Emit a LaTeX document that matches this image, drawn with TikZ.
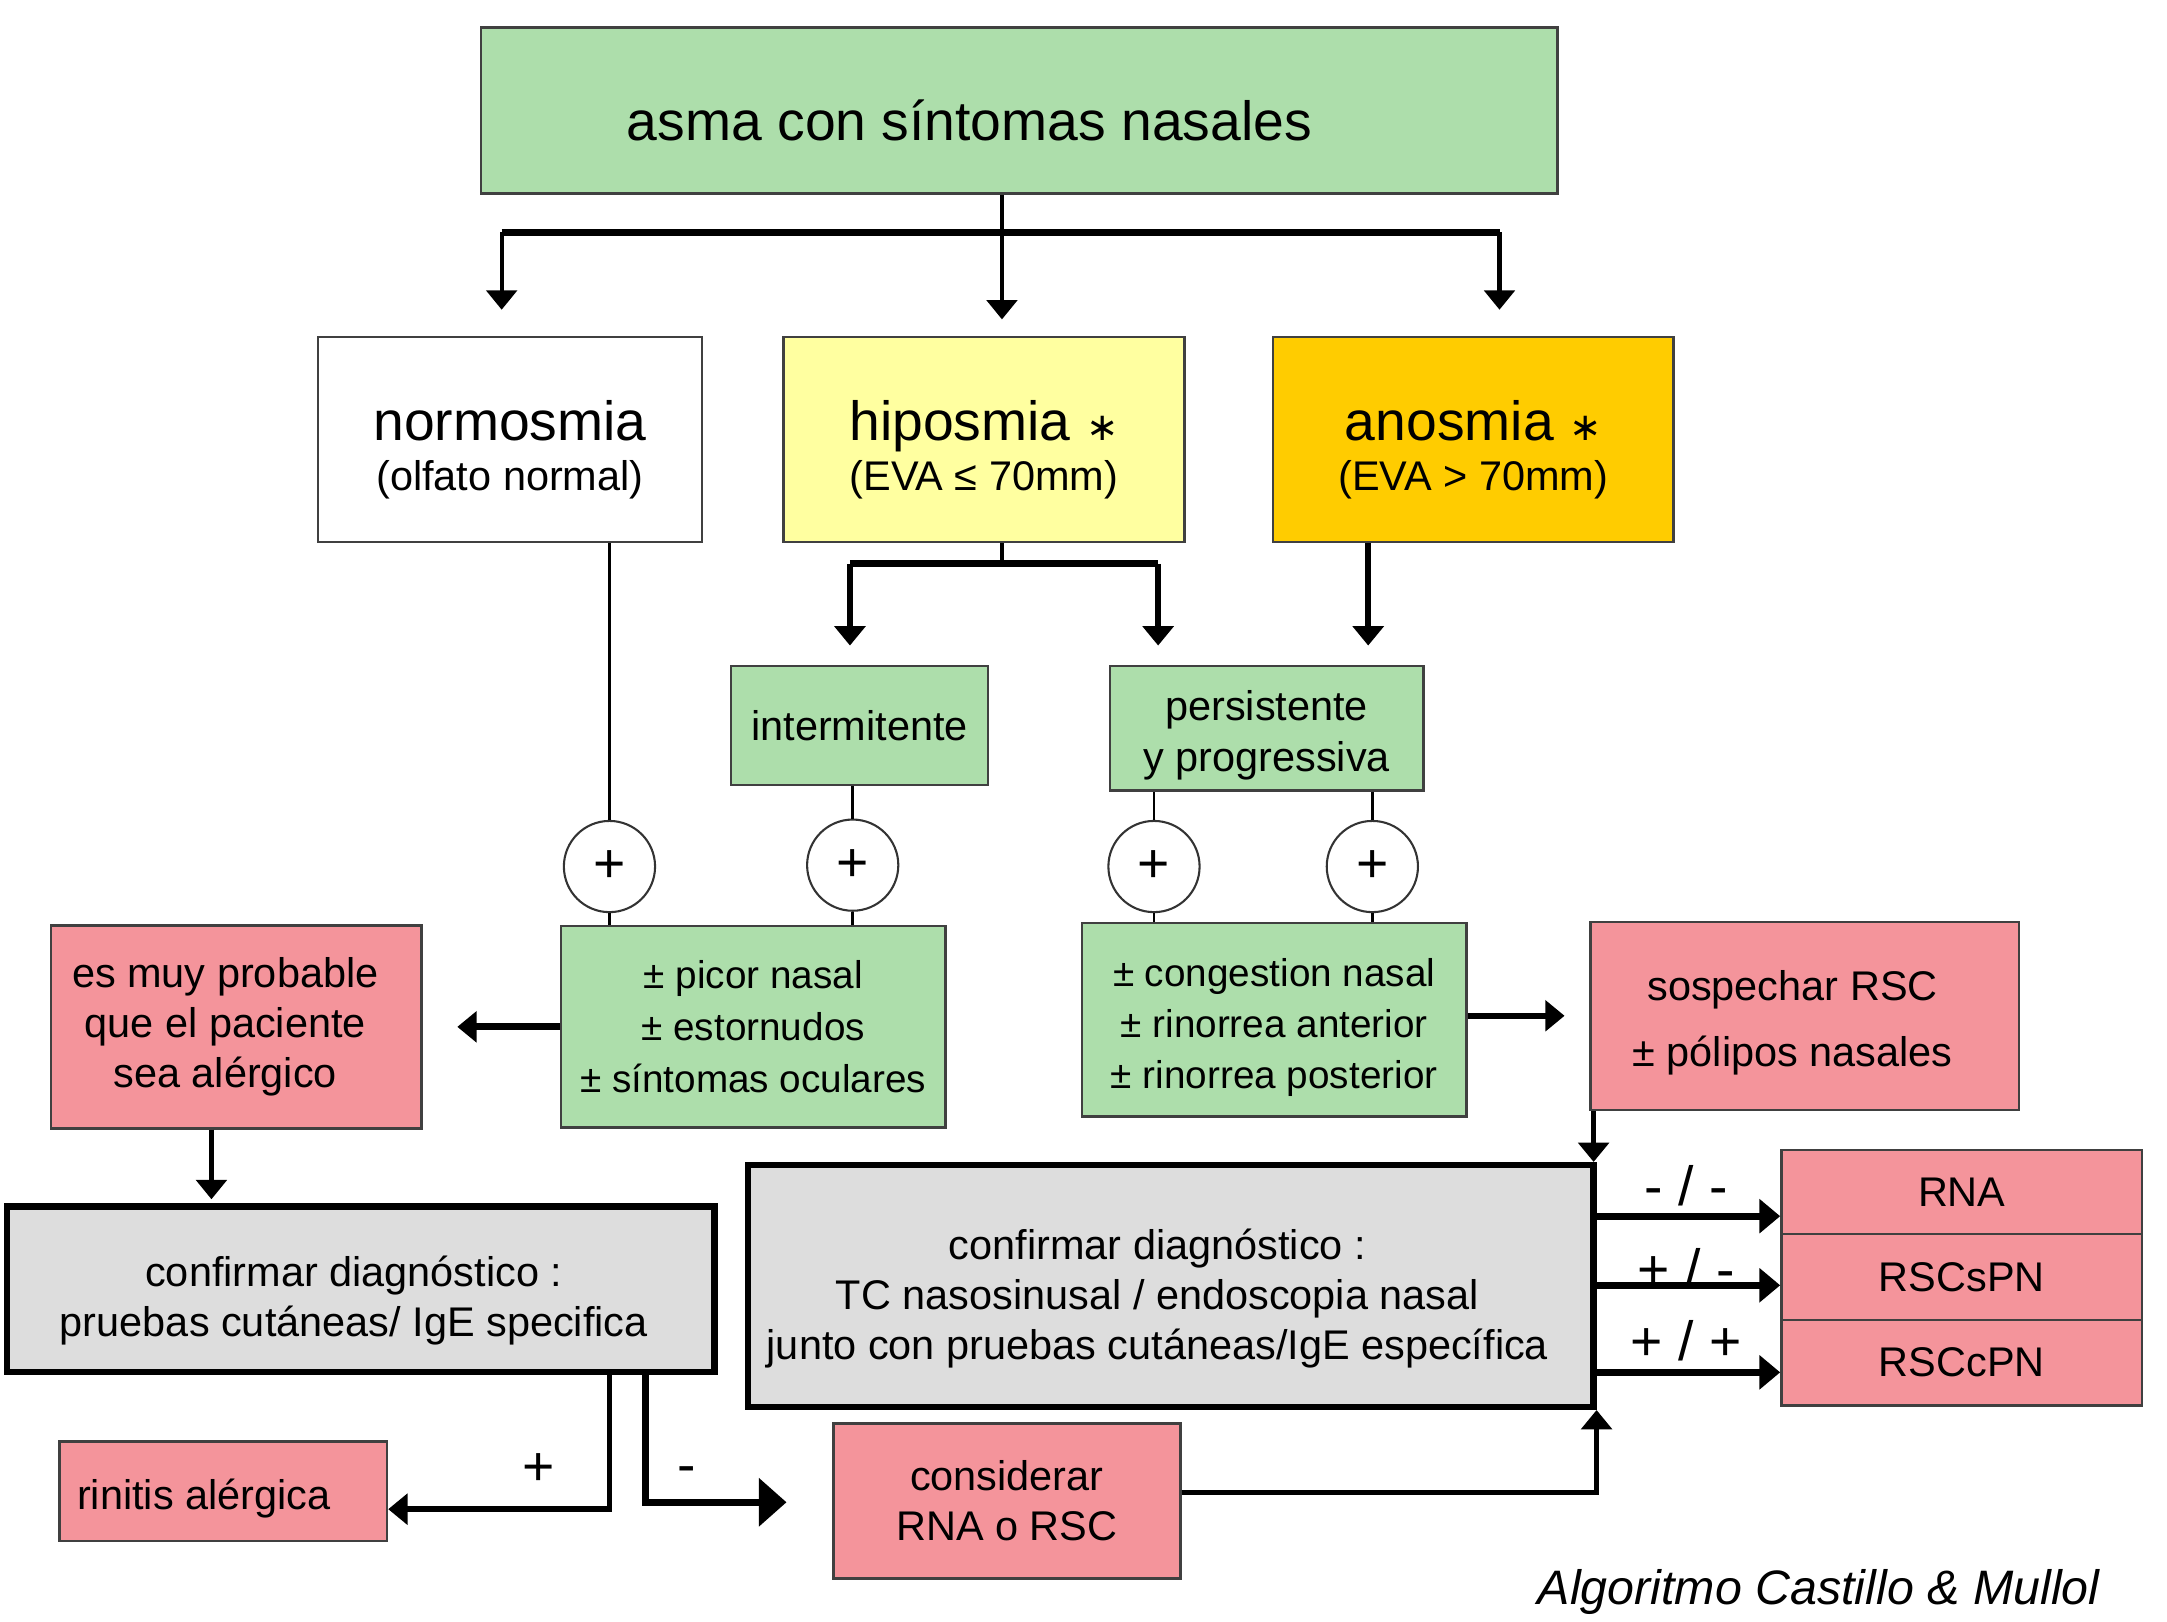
\documentclass[tikz,border=0pt]{standalone}
\usepackage{fontspec}
\setmainfont{Liberation Sans}
\newfontfamily\symfont{DejaVu Sans}
\usetikzlibrary{arrows.meta, positioning}
\definecolor{nasalgreen}{RGB}{173,222,171}
\definecolor{hipoyellow}{RGB}{255,255,160}
\definecolor{anogold}{RGB}{255,204,0}
\definecolor{rscpink}{RGB}{244,148,155}
\definecolor{diaggrey}{RGB}{221,221,221}

\begin{document}
\begin{tikzpicture}[x=1pt,y=-1pt,on grid,>={Triangle[width=22pt,length=14pt]},
    every node/.style={inner sep=0pt,align=center,font=\fontsize{30}{36}\selectfont},
    colbox/.style={draw=black!75,line width=1.8pt,fill=#1},
    diagbox/.style={draw=black,line width=4.5pt,fill=diaggrey},
    pluscircle/.style={circle,draw=black!80,line width=1.5pt,fill=white,minimum size=66pt,
      font=\fontsize{40}{40}\selectfont},
    signlabel/.style={font=\fontsize{40}{40}\selectfont},
    arr/.style={->,line width=3pt},
    bigarr/.style={-{Triangle[width=24pt,length=15pt]},line width=4.8pt},
    bar/.style={line width=5pt},
    link/.style={line width=2pt}]
  \useasboundingbox (0,0) rectangle (1568,1173);
  % olfato
  \node[colbox=nasalgreen,minimum width=779pt,minimum height=120pt,font=\fontsize{40}{48}\selectfont]
    (asma) at (737.5,80) {\rule{0pt}{44pt}asma con síntomas nasales\kern72pt};
  \node[colbox=white,minimum width=278pt,minimum height=148pt] (normosmia) at (369,318)
    {{\fontsize{40}{40}\selectfont\rule{0pt}{44pt}normosmia}\\(olfato normal)};
  \node[colbox=hipoyellow,minimum width=290pt,minimum height=148pt,right=343pt of normosmia] (hiposmia)
    {{\fontsize{40}{40}\selectfont\rule{0pt}{44pt}hiposmia {\symfont\fontsize{28}{28}\selectfont ∗}}\\(EVA ≤ 70mm)};
  \node[colbox=anogold,minimum width=290pt,minimum height=148pt,right=354pt of hiposmia] (anosmia)
    {{\fontsize{40}{40}\selectfont\rule{0pt}{44pt}anosmia {\symfont\fontsize{28}{28}\selectfont ∗}}\\(EVA > 70mm)};
  \node[colbox=nasalgreen,minimum width=186pt,minimum height=86pt] (intermitente) at (622,525) {intermitente};
  \node[colbox=nasalgreen,minimum width=227pt,minimum height=90pt] (persistente) at (916.5,527)
    {\rule{0pt}{32pt}persistente\\[1pt]y progressiva};
  \node[pluscircle] (c1) at (441,627) {+};
  \node[pluscircle] (c2) at (617,626) {+};
  \node[pluscircle] (c3) at (835,627) {+};
  \node[pluscircle] (c4) at (993,627) {+};
  % sintomas
  \node[colbox=nasalgreen,minimum width=278pt,minimum height=146pt,font=\fontsize{28}{37.5}\selectfont]
    (sym1) at (545,743) {± picor nasal\\± estornudos\\± síntomas oculares};
  \node[colbox=nasalgreen,minimum width=278pt,minimum height=140pt,font=\fontsize{28}{37}\selectfont]
    (sym2) at (922,738) {\rule{0pt}{31pt}± congestion nasal\\± rinorrea anterior\\± rinorrea posterior};
  \node[colbox=rscpink,minimum width=268pt,minimum height=147pt] (alerg) at (171,743)
    {es muy probable\kern16pt\\que el paciente\kern16pt\\sea alérgico\kern16pt};
  \node[colbox=rscpink,minimum width=310pt,minimum height=136pt] (sospechar) at (1306,735)
    {\rule{0pt}{32pt}sospechar RSC\kern18pt\\[12pt]± pólipos nasales\kern18pt};
  % diagnostico
  \node[diagbox,minimum width=512pt,minimum height=120pt] (diag1) at (261,933)
    {\rule{0pt}{38pt}confirmar diagnóstico :\kern10pt\\pruebas cutáneas/ IgE specifica\kern10pt};
  \node[diagbox,minimum width=612pt,minimum height=175pt] (diag2) at (847,930.5)
    {\rule{0pt}{40pt}confirmar diagnóstico :\kern19pt\\TC nasosinusal / endoscopia nasal\kern19pt\\junto con pruebas cutáneas/IgE específica\kern19pt};
  \node[colbox=rscpink,minimum width=261pt,minimum height=61pt] (RNA) at (1419.5,862.5) {RNA};
  \node[colbox=rscpink,minimum width=261pt,minimum height=62pt,below=61.5pt of RNA] (RSCsPN) {RSCsPN};
  \node[colbox=rscpink,minimum width=261pt,minimum height=62pt,below=62pt of RSCsPN] (RSCcPN) {RSCcPN};
  \node[colbox=rscpink,minimum width=237pt,minimum height=72pt] (rinitis) at (161.5,1079)
    {\rule{0pt}{33pt}rinitis alérgica\kern28pt};
  \node[colbox=rscpink,minimum width=251pt,minimum height=112pt] (considerar) at (728.5,1086)
    {considerar\\RNA o RSC};
  \node[signlabel] (mm) at (1220,858) {- / -};
  \node[signlabel] (pm) at (1220,918) {+ / -};
  \node[signlabel] (pp) at (1220,970) {+ / +};
  \node[signlabel] (pos) at (390,1063) {+};
  \node[signlabel] (neg) at (497,1067) {-};
  \node[font=\fontsize{35}{38}\selectfont\itshape] (credit) at (1316,1152) {Algoritmo Castillo \& Mullol};

  % conectores
  \coordinate (split) at (725,168);
  \coordinate (barL) at (363,168);
  \coordinate (barR) at (1085,168);
  \draw[line width=3pt] ([xshift=-12.5pt]asma.south) -- (split);
  \draw[bar] (barL) -- (barR);
  \draw[arr,shorten >=19pt] (barL) -- (barL |- normosmia.north);
  \draw[arr,shorten >=12pt] (split) -- (split |- hiposmia.north);
  \draw[arr,shorten >=19pt] (barR) -- (barR |- anosmia.north);
  \coordinate (hsplit) at (725,408);
  \coordinate (hipL) at (615,408);
  \coordinate (hipR) at (838,408);
  \draw[line width=3pt] (hiposmia.south -| hsplit) -- (hsplit);
  \draw[bar] (hipL) -- (hipR);
  \draw[arr,line width=4pt,shorten >=14pt] (hipL) -- (hipL |- intermitente.north);
  \draw[arr,line width=4pt,shorten >=14pt] (hipR) -- (hipR |- persistente.north);
  \draw[arr,line width=4pt,shorten >=14pt] ([xshift=-76pt]anosmia.south) -- ([xshift=-76pt]anosmia.south |- persistente.north);
  \draw[link] (normosmia.south -| c1) -- (c1.north);
  \draw[link] (intermitente.south -| c2) -- (c2.north);
  \draw[link] (persistente.south -| c3) -- (c3.north);
  \draw[link] (persistente.south -| c4) -- (c4.north);
  \draw[link] (c1.south) -- (c1.south |- sym1.north);
  \draw[link] (c2.south) -- (c2.south |- sym1.north);
  \draw[link] (c3.south) -- (c3.south |- sym2.north);
  \draw[link] (c4.south) -- (c4.south |- sym2.north);
  \draw[arr,line width=5pt,shorten >=25pt] (sym1.west) -- (alerg.east);
  \draw[arr,line width=4.5pt,shorten >=18pt] (sym2.east |- sospechar.west) -- (sospechar.west);
  \draw[arr,shorten >=3pt] ([xshift=-18pt]alerg.south) -- ([xshift=-18pt]alerg.south |- diag1.north);
  \draw[arr,line width=4pt] ([xshift=3pt]sospechar.south west) -- ([xshift=3pt]sospechar.south west |- diag2.north);
  \draw[bigarr] ([yshift=-17.5pt]RNA.west -| diag2.east) -- ([yshift=-17.5pt]RNA.west);
  \draw[bigarr] ([yshift=-6pt]RSCsPN.west -| diag2.east) -- ([yshift=-6pt]RSCsPN.west);
  \draw[bigarr] ([yshift=-7pt]RSCcPN.west -| diag2.east) -- ([yshift=-7pt]RSCcPN.west);
  \draw[arr,line width=4pt] ([xshift=180pt]diag1.south) |- ([yshift=-13pt]rinitis.east);
  \draw[-{Triangle[width=34pt,length=20pt]},line width=5pt,shorten >=33pt]
    ([xshift=206pt]diag1.south) |- ([yshift=-1pt]considerar.west);
  \draw[arr,line width=4pt] ([yshift=6pt]considerar.east) -| (diag2.south east);
\end{tikzpicture}
\end{document}
